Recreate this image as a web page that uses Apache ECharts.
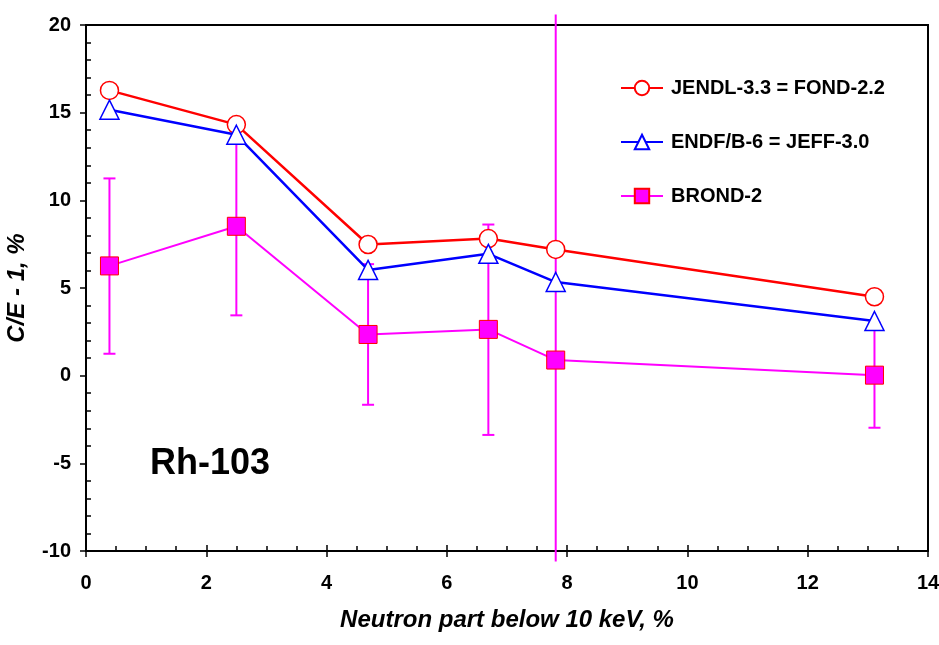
<!DOCTYPE html>
<html>
<head>
<meta charset="utf-8">
<script src="https://cdn.jsdelivr.net/npm/echarts@6/dist/echarts.min.js"></script>
<style>
html,body{margin:0;padding:0;background:#fff;}
#chart{width:939px;height:645px;}
</style>
</head>
<body>
<div id="chart"></div>
<script>
// ---- data ----
const xValues = [0.39, 2.50, 4.69, 6.69, 7.81, 13.11];
const jendl = [16.27, 14.32, 7.48, 7.82, 7.20, 4.50];
const endf = [15.17, 13.74, 6.03, 6.95, 5.34, 3.12];
const brond = [6.26, 8.52, 2.35, 2.64, 0.89, 0.03];
const brondErrLow = [1.25, 3.44, -1.66, -3.38, -10.6, -2.97];
const brondErrHigh = [11.25, 13.52, 6.36, 8.62, 20.6, 3.03];
const seriesNames = ['JENDL-3.3 = FOND-2.2', 'ENDF/B-6 = JEFF-3.0', 'BROND-2'];
const xTitle = 'Neutron part below 10 keV, %';
const yTitle = 'C/E - 1, %';
const label = 'Rh-103';

const X_MIN = 0, X_MAX = 14, Y_MIN = -10, Y_MAX = 20;

const FONT = '"Liberation Sans", Arial, sans-serif';
const pairs = (ys) => xValues.map((x, i) => [x, ys[i]]);
const errData = xValues.map((x, i) => [x, brondErrLow[i], brondErrHigh[i]]);

const chart = echarts.init(document.getElementById('chart'), null, {renderer: 'canvas'});

const grid = {left: 86, top: 25, width: 842, height: 526, show: true, borderColor: '#000', borderWidth: 2,
  backgroundColor: 'transparent', containLabel: false, outerBoundsMode: 'none'};

const option = {
  animation: false,
  backgroundColor: '#fff',
  grid: grid,
  legend: {
    orient: 'vertical',
    left: 615,
    top: 73,
    itemWidth: 42,
    itemHeight: 18,
    itemGap: 34,
    data: seriesNames,
    textStyle: {fontFamily: FONT, fontWeight: 'bold', fontSize: 20, color: '#000', lineHeight: 20, padding: [0, 0, 0, 3]}
  },
  xAxis: [{
    type: 'value', min: X_MIN, max: X_MAX, interval: 2,
    axisLine: {show: true, onZero: false, lineStyle: {color: '#000', width: 2}},
    axisTick: {show: true, inside: false, length: 6, lineStyle: {color: '#000', width: 1.5}},
    splitLine: {show: false},
    axisLabel: {margin: 22, fontFamily: FONT, fontWeight: 'bold', fontSize: 20, color: '#000'},
    name: xTitle, nameLocation: 'middle', nameGap: 57,
    nameTextStyle: {fontFamily: FONT, fontWeight: 'bold', fontStyle: 'italic', fontSize: 24, color: '#000'}
  }, {
    type: 'value', min: X_MIN, max: X_MAX, interval: 2, position: 'bottom',
    axisLine: {show: false, onZero: false},
    axisTick: {show: true, inside: true, length: 6, lineStyle: {color: '#000', width: 1.5}},
    minorTick: {show: true, splitNumber: 4, length: 5, lineStyle: {color: '#000', width: 1.5}},
    axisLabel: {show: false}, splitLine: {show: false}
  }],
  yAxis: [{
    type: 'value', min: Y_MIN, max: Y_MAX, interval: 5,
    axisLine: {show: true, onZero: false, lineStyle: {color: '#000', width: 2}},
    axisTick: {show: true, inside: false, length: 6, lineStyle: {color: '#000', width: 1.5}},
    splitLine: {show: false},
    axisLabel: {margin: 15, fontFamily: FONT, fontWeight: 'bold', fontSize: 20, color: '#000'},
    name: yTitle, nameLocation: 'middle', nameGap: 57, nameRotate: 90,
    nameTextStyle: {fontFamily: FONT, fontWeight: 'bold', fontStyle: 'italic', fontSize: 24, color: '#000'}
  }, {
    type: 'value', min: Y_MIN, max: Y_MAX, interval: 5, position: 'left',
    axisLine: {show: false, onZero: false},
    axisTick: {show: false, inside: true},
    minorTick: {show: true, splitNumber: 5, length: 5, lineStyle: {color: '#000', width: 1.5}},
    axisLabel: {show: false}, splitLine: {show: false}
  }],
  graphic: [{
    type: 'text', left: 150, top: 446, z: 100,
    style: {text: label, fontFamily: FONT, fontWeight: 'bold', fontSize: 36, fill: '#000'}
  }],
  series: [
    {
      name: 'err', type: 'custom', xAxisIndex: 0, yAxisIndex: 0, clip: false, z: 1,
      data: errData,
      renderItem: function (params, api) {
        const x = api.value(0), lo = api.value(1), hi = api.value(2);
        const pLo = api.coord([x, lo]);
        const pHi = api.coord([x, hi]);
        const style = {stroke: '#FF00FF', lineWidth: 2};
        const children = [{type: 'line', shape: {x1: pLo[0], y1: pLo[1], x2: pHi[0], y2: pHi[1]}, style: style}];
        const cw = 6;
        if (lo >= Y_MIN) children.push({type: 'line', shape: {x1: pLo[0] - cw, y1: pLo[1], x2: pLo[0] + cw, y2: pLo[1]}, style: style});
        if (hi <= Y_MAX) children.push({type: 'line', shape: {x1: pHi[0] - cw, y1: pHi[1], x2: pHi[0] + cw, y2: pHi[1]}, style: style});
        return {type: 'group', children: children};
      }
    },
    {
      name: seriesNames[0], type: 'line', data: pairs(jendl), z: 3,
      symbol: 'circle', symbolSize: 18, showAllSymbol: true,
      lineStyle: {color: '#FF0000', width: 2.5},
      itemStyle: {color: '#FFFFFF', borderColor: '#FF0000', borderWidth: 1.5}
    },
    {
      name: seriesNames[1], type: 'line', data: pairs(endf), z: 4,
      symbol: 'triangle', symbolSize: 19, showAllSymbol: true,
      lineStyle: {color: '#0000FF', width: 2.5},
      itemStyle: {color: '#FFFFFF', borderColor: '#0000FF', borderWidth: 1.5}
    },
    {
      name: seriesNames[2], type: 'line', data: pairs(brond), z: 2,
      symbol: 'rect', symbolSize: 18, showAllSymbol: true,
      lineStyle: {color: '#FF00FF', width: 2},
      itemStyle: {color: '#FF00FF', borderColor: '#FF0000', borderWidth: 1}
    }
  ]
};
chart.setOption(option);
</script>
</body>
</html>
